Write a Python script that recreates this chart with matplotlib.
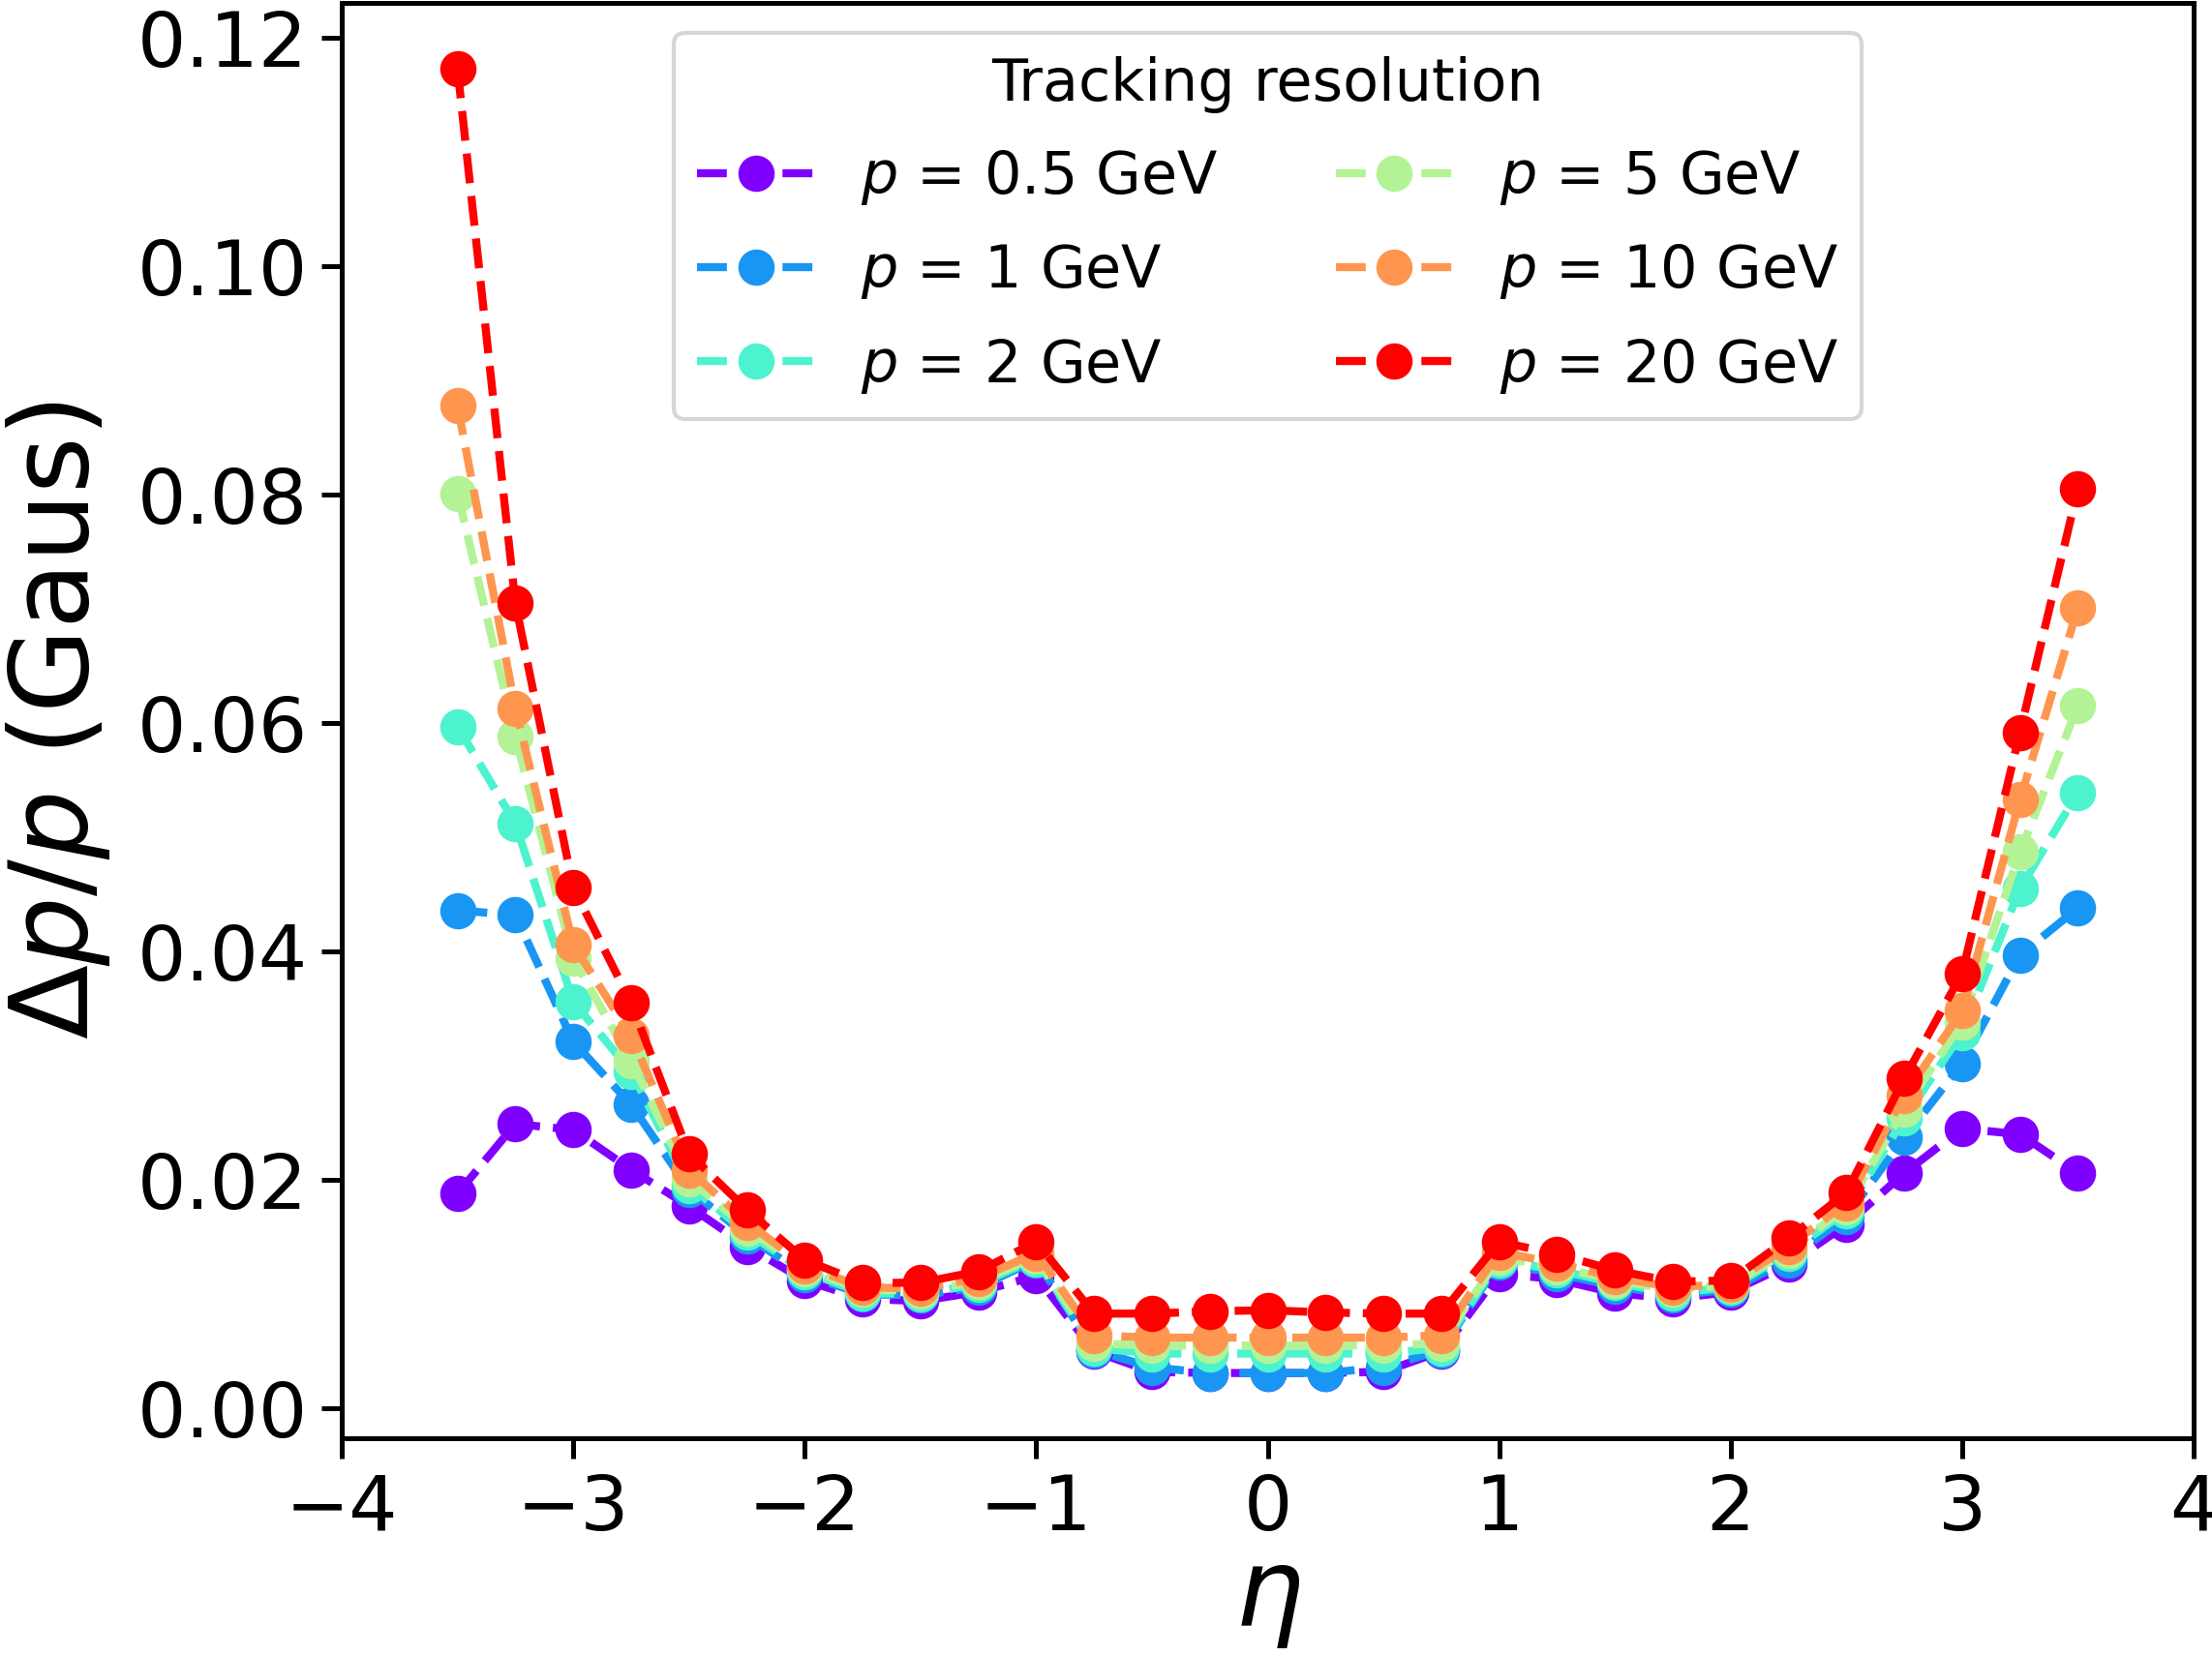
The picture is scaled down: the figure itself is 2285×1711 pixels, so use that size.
import matplotlib
matplotlib.use("Agg")
import matplotlib.pyplot as plt
import numpy as np

eta = [-3.5, -3.25, -3.0, -2.75, -2.5, -2.25, -2.0, -1.75, -1.5, -1.25, -1.0, -0.75, -0.5, -0.25,
       0.0, 0.25, 0.5, 0.75, 1.0, 1.25, 1.5, 1.75, 2.0, 2.25, 2.5, 2.75, 3.0, 3.25, 3.5]

labels = ["0.5", "1", "2", "5", "10", "20"]

res_p05 = [0.0188, 0.0249, 0.0244, 0.0209, 0.0177, 0.0142, 0.0112, 0.0096, 0.0094, 0.0102, 0.0116,
           0.0050, 0.0032, 0.0031, 0.0031, 0.0031, 0.0032, 0.0050, 0.0118, 0.0113, 0.0101, 0.0096,
           0.0102, 0.0126, 0.0161, 0.0206, 0.0245, 0.0240, 0.0206]
res_p1 = [0.0436, 0.0432, 0.0321, 0.0266, 0.0192, 0.0151, 0.0117, 0.0100, 0.0099, 0.0106, 0.0130,
          0.0051, 0.0036, 0.0031, 0.0031, 0.0031, 0.0036, 0.0051, 0.0128, 0.0118, 0.0107, 0.0099,
          0.0104, 0.0130, 0.0168, 0.0237, 0.0302, 0.0397, 0.0438]
res_p2 = [0.0597, 0.0512, 0.0356, 0.0295, 0.0195, 0.0154, 0.0120, 0.0101, 0.0100, 0.0109, 0.0131,
          0.0053, 0.0048, 0.0048, 0.0048, 0.0048, 0.0048, 0.0053, 0.0130, 0.0121, 0.0110, 0.0101,
          0.0106, 0.0136, 0.0173, 0.0254, 0.0329, 0.0455, 0.0539]
res_p5 = [0.0801, 0.0588, 0.0394, 0.0304, 0.0201, 0.0158, 0.0122, 0.0104, 0.0103, 0.0111, 0.0133,
          0.0057, 0.0055, 0.0055, 0.0055, 0.0055, 0.0055, 0.0057, 0.0132, 0.0124, 0.0112, 0.0104,
          0.0108, 0.0138, 0.0176, 0.0262, 0.0338, 0.0487, 0.0615]
res_p10 = [0.0878, 0.0613, 0.0406, 0.0326, 0.0209, 0.0163, 0.0125, 0.0106, 0.0105, 0.0114, 0.0136,
           0.0064, 0.0062, 0.0062, 0.0062, 0.0062, 0.0062, 0.0064, 0.0137, 0.0127, 0.0115, 0.0106,
           0.0109, 0.0142, 0.0180, 0.0274, 0.0348, 0.0533, 0.0701]
res_p20 = [0.1173, 0.0705, 0.0456, 0.0355, 0.0223, 0.0174, 0.0130, 0.0110, 0.0110, 0.0120, 0.0146,
           0.0083, 0.0083, 0.0085, 0.0086, 0.0084, 0.0083, 0.0083, 0.0146, 0.0135, 0.0121, 0.0111,
           0.0112, 0.0149, 0.0189, 0.0289, 0.0381, 0.0592, 0.0805]

series = [res_p05, res_p1, res_p2, res_p5, res_p10, res_p20]
colors = plt.cm.rainbow(np.linspace(0, 1, len(series)))

fig = plt.figure(figsize=(2285 / 300, 1711 / 300), dpi=300)
ax = fig.add_axes([0.1545, 0.1315, 0.8372, 0.8665])

for lab, ys, c in zip(labels, series, colors):
    ax.plot(eta, ys, '--o', color=c, lw=2, markersize=8, label=r'$p$ = %s GeV' % lab)

ax.set_xlim(-4, 4)
ax.set_xlabel(r'$\eta$', fontsize=27, labelpad=0)
ax.set_ylabel(r'$\Delta p/p$ (Gaus)', fontsize=27, labelpad=6)
ax.tick_params(labelsize=19, width=1.2, length=5)
for s in ax.spines.values():
    s.set_linewidth(1.2)

leg = ax.legend(title='Tracking resolution', ncol=2, loc='upper center', fontsize=14.5,
                title_fontsize=14.5, columnspacing=2.0, handlelength=2.0, labelspacing=0.6)

fig.savefig('out.png', dpi=300)
